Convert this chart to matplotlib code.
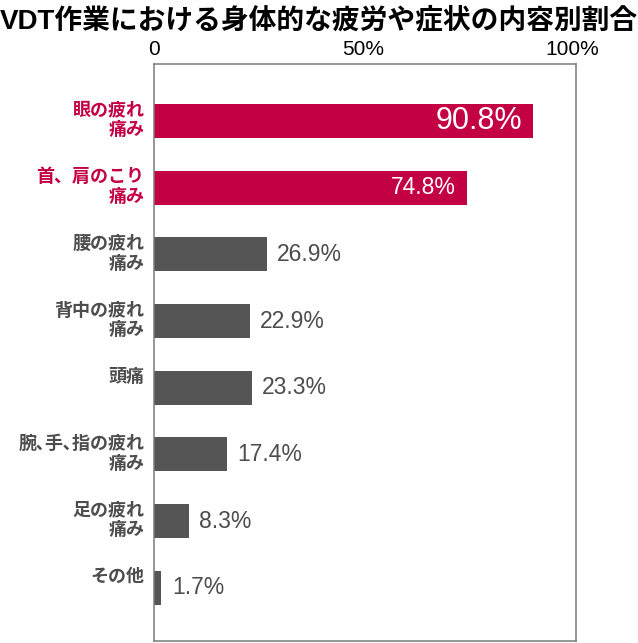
import matplotlib
matplotlib.use("Agg")
import matplotlib.pyplot as plt

plt.rcParams['font.family'] = ['Liberation Sans', 'Noto Sans CJK JP']

# データ
title = 'VDT作業における身体的な疲労や症状の内容別割合'
categories = ['眼の疲れ\n痛み', '首、肩のこり\n痛み', '腰の疲れ\n痛み', '背中の疲れ\n痛み',
              '頭痛', '腕､手､指の疲れ\n痛み', '足の疲れ\n痛み', 'その他']
values = [90.8, 74.8, 26.9, 22.9, 23.3, 17.4, 8.3, 1.7]
highlight = [True, True, False, False, False, False, False, False]
tick_values = [0, 50, 100]
tick_labels = ['0', '50%', '100%']

RED = '#c40044'
GRAY = '#555555'
TEXT_GRAY = '#4d4d4d'

fig = plt.figure(figsize=(6.38, 6.43), dpi=100)
ax = fig.add_axes([154.3 / 638, 1 - 641 / 643, (576 - 154.3) / 638, (641 - 64) / 643])

ypos = list(range(len(categories)))
bar_h = 0.51
colors = [RED if h else GRAY for h in highlight]
ax.barh(ypos, values, height=bar_h, color=colors, edgecolor='none')

ax.set_xlim(0, 101)
ax.set_ylim(7.8, -0.855)
ax.xaxis.tick_top()
ax.set_xticks(tick_values)
ax.set_xticklabels(tick_labels, fontsize=15, color='black')
ax.tick_params(axis='x', length=0, pad=3.5)
ax.set_yticks([])
for s in ax.spines.values():
    s.set_color('#7a7a7a')
    s.set_linewidth(1.1)

# 項目ラベル
for y, cat, h in zip(ypos, categories, highlight):
    ax.annotate(cat, xy=(0, y - bar_h / 2), xycoords='data',
                xytext=(-7, 2.5), textcoords='offset points',
                ha='right', va='top', fontsize=13, fontweight='bold',
                color=RED if h else TEXT_GRAY, linespacing=1.05,
                family=['Noto Sans CJK JP'])

# 数値ラベル
for i, (y, v, h) in enumerate(zip(ypos, values, highlight)):
    label = f'{v:.1f}%'
    if h:
        ax.annotate(label, xy=(v, y), xytext=(-8, 0), textcoords='offset points',
                    ha='right', va='center', color='white',
                    fontsize=22 if i == 0 else 16.5)
    else:
        ax.annotate(label, xy=(v, y), xytext=(7.5, 0), textcoords='offset points',
                    ha='left', va='center', color=TEXT_GRAY, fontsize=16.5)

fig.text(0.5, 1 - 21 / 643, title, ha='center', va='center',
         fontsize=20, fontweight='bold', color='black')

fig.savefig('out.png', dpi=100)
